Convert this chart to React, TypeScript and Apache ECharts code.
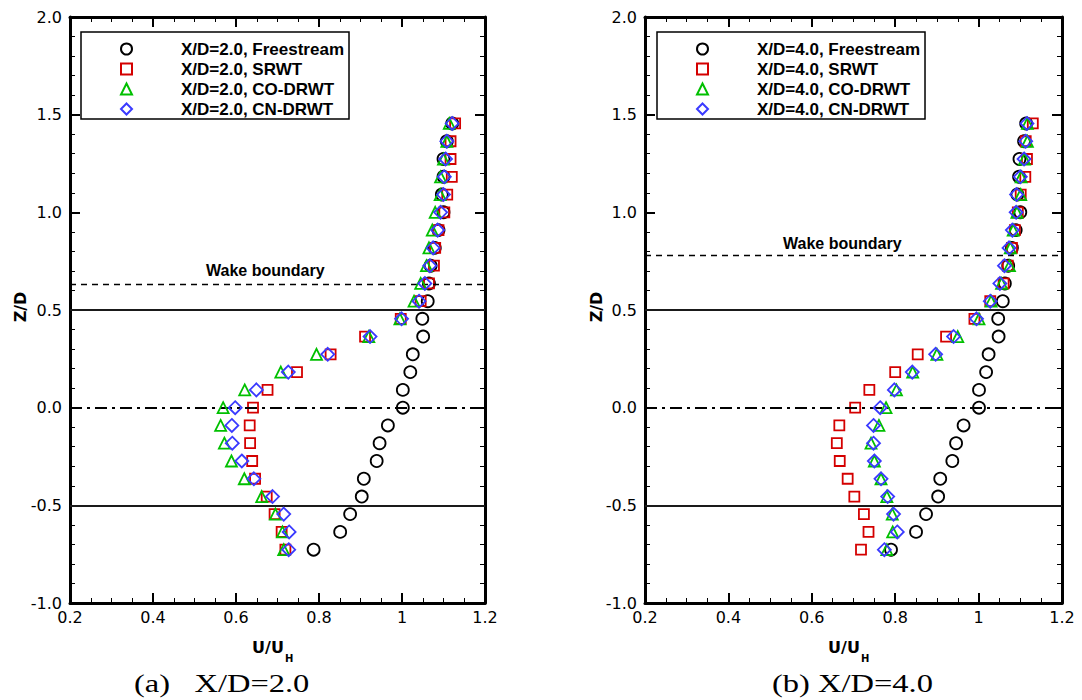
import React, { useEffect, useRef } from "react";
import * as echarts from "echarts";

// Vertical measurement stations Z/D (shared by all profiles)
const zLevels = [
  -0.727, -0.636, -0.545, -0.455, -0.364, -0.273, -0.182, -0.091, 0.0, 0.091,
  0.182, 0.273, 0.364, 0.455, 0.545, 0.636, 0.727, 0.818, 0.909, 1.0, 1.091,
  1.182, 1.273, 1.364, 1.455,
];

// X/D = 2.0 profiles (U/U_H), bottom to top
const u2Freestream = [
  0.787, 0.851, 0.875, 0.903, 0.908, 0.939, 0.946, 0.966, 1.002, 1.002, 1.02,
  1.026, 1.051, 1.049, 1.062, 1.065, 1.069, 1.079, 1.088, 1.1, 1.096, 1.1, 1.1,
  1.108, 1.121,
];
const u2SRWT = [
  0.719, 0.71, 0.693, 0.674, 0.646, 0.639, 0.634, 0.633, 0.641, 0.676, 0.747,
  0.828, 0.911, 0.997, 1.045, 1.065, 1.077, 1.08, 1.088, 1.102, 1.109, 1.12,
  1.117, 1.117, 1.128,
];
const u2CODRWT = [
  0.715, 0.712, 0.695, 0.662, 0.62, 0.589, 0.572, 0.563, 0.569, 0.621, 0.708,
  0.794, 0.92, 0.995, 1.029, 1.045, 1.059, 1.065, 1.073, 1.08, 1.092, 1.093,
  1.1, 1.108, 1.114,
];
const u2CNDRWT = [
  0.727, 0.728, 0.715, 0.688, 0.643, 0.614, 0.591, 0.59, 0.598, 0.649, 0.726,
  0.821, 0.923, 0.999, 1.041, 1.055, 1.067, 1.075, 1.086, 1.093, 1.1, 1.102,
  1.105, 1.108, 1.121,
];

// X/D = 4.0 profiles (U/U_H), bottom to top
const u4Freestream = [
  0.79, 0.85, 0.874, 0.903, 0.908, 0.937, 0.946, 0.964, 1.001, 1.001, 1.018,
  1.024, 1.048, 1.047, 1.058, 1.063, 1.071, 1.08, 1.089, 1.1, 1.093, 1.097,
  1.098, 1.109, 1.114,
];
const u4SRWT = [
  0.718, 0.736, 0.725, 0.702, 0.686, 0.667, 0.66, 0.666, 0.704, 0.738, 0.8,
  0.854, 0.922, 0.99, 1.028, 1.06, 1.07, 1.08, 1.087, 1.094, 1.101, 1.112,
  1.116, 1.113, 1.13,
];
const u4CODRWT = [
  0.78, 0.794, 0.793, 0.78, 0.766, 0.75, 0.742, 0.761, 0.778, 0.803, 0.842,
  0.9, 0.95, 1.001, 1.03, 1.055, 1.074, 1.076, 1.083, 1.092, 1.101, 1.102,
  1.11, 1.117, 1.117,
];
const u4CNDRWT = [
  0.774, 0.805, 0.796, 0.782, 0.766, 0.75, 0.748, 0.748, 0.764, 0.798, 0.841,
  0.897, 0.94, 0.995, 1.028, 1.051, 1.062, 1.073, 1.081, 1.09, 1.091, 1.1,
  1.109, 1.113, 1.116,
];

const caseNames = ["Freestream", "SRWT", "CO-DRWT", "CN-DRWT"];
const stations = ["X/D=2.0", "X/D=4.0"];
const wakeBoundary = [0.632, 0.776];
const rotorEdges = [0.5, -0.5];
const hubCenter = [0];

const xTicks = { min: 0.2, max: 1.2, interval: 0.2 };
const yTicks = { min: -1.0, max: 2.0, interval: 0.5 };

const markerColors = ["#000000", "#d40000", "#00c000", "#3a3aff"];
const markerSymbols = ["circle", "rect", "triangle", "diamond"];
const markerSizes = [12, 10, 11, 13];

const grids = [
  { left: 70, top: 17, width: 415, height: 586 },
  { left: 645, top: 17, width: 417, height: 586 },
];

const TICK_FONT = "DejaVu Sans";

function makeXAxis(gridIndex: number, position: "top" | "bottom") {
  return {
    type: "value",
    gridIndex,
    position,
    min: xTicks.min,
    max: xTicks.max,
    interval: xTicks.interval,
    axisLine: { show: true, onZero: false, lineStyle: { color: "#000", width: 3 } },
    axisTick: { show: true, inside: true, length: 10, lineStyle: { color: "#000", width: 2 } },
    minorTick: { show: true, splitNumber: 4, length: 5, lineStyle: { color: "#000", width: 1 } },
    splitLine: { show: false },
    minorSplitLine: { show: false },
    axisLabel: {
      show: position === "bottom",
      margin: 6,
      fontFamily: TICK_FONT,
      fontSize: 16,
      color: "#000",
      formatter: (v: number) => String(Math.round(v * 10) / 10),
    },
  };
}

function makeYAxis(gridIndex: number, position: "left" | "right") {
  return {
    type: "value",
    gridIndex,
    position,
    min: yTicks.min,
    max: yTicks.max,
    interval: yTicks.interval,
    axisLine: { show: true, onZero: false, lineStyle: { color: "#000", width: 3 } },
    axisTick: { show: true, inside: true, length: 10, lineStyle: { color: "#000", width: 2 } },
    minorTick: { show: true, splitNumber: 5, length: 5, lineStyle: { color: "#000", width: 1 } },
    splitLine: { show: false },
    minorSplitLine: { show: false },
    axisLabel: {
      show: position === "left",
      margin: 8,
      fontFamily: TICK_FONT,
      fontSize: 16,
      color: "#000",
      formatter: (v: number) => v.toFixed(1),
    },
  };
}

export default function App() {
  const ref = useRef<HTMLDivElement>(null);

  useEffect(() => {
    if (!ref.current) return;
    const chart = echarts.init(ref.current, null, { renderer: "svg" });

    const profiles = [
      [u2Freestream, u2SRWT, u2CODRWT, u2CNDRWT],
      [u4Freestream, u4SRWT, u4CODRWT, u4CNDRWT],
    ];

    const series: any[] = [];
    const legendNames: string[][] = [[], []];

    profiles.forEach((group, gi) => {
      group.forEach((vals, ci) => {
        const name = `${stations[gi]}, ${caseNames[ci]}`;
        legendNames[gi].push(name);
        const s: any = {
          type: "scatter",
          name,
          xAxisIndex: gi * 2,
          yAxisIndex: gi * 2,
          symbol: markerSymbols[ci],
          symbolSize: markerSizes[ci],
          symbolKeepAspect: true,
          itemStyle: {
            color: "rgba(0,0,0,0)",
            borderColor: markerColors[ci],
            borderWidth: 1.8,
            opacity: 1,
          },
          emphasis: { disabled: true },
          data: zLevels.map((z, i) => [vals[i], z]),
          z: 3 + ci,
        };
        if (ci === 0) {
          s.markLine = {
            silent: true,
            symbol: ["none", "none"],
            label: { show: false },
            animation: false,
            data: [
              ...rotorEdges.map((v) => ({
                yAxis: v,
                lineStyle: { color: "#1a1a1a", width: 2, type: "solid" },
              })),
              ...hubCenter.map((v) => ({
                yAxis: v,
                lineStyle: { color: "#000", width: 2, type: [12, 5, 3, 5] },
              })),
              {
                yAxis: wakeBoundary[gi],
                lineStyle: { color: "#000", width: 1.3, type: [6, 5] },
              },
            ],
          };
        }
        series.push(s);
      });
    });

    const legendBase = {
      orient: "vertical",
      itemWidth: 11,
      itemHeight: 11,
      itemGap: 0,
      padding: [7, 5, 0, 39],
      borderColor: "#000",
      borderWidth: 1.5,
      backgroundColor: "#fff",
      selectedMode: false,
      symbolKeepAspect: true,
      textStyle: {
        fontFamily: "Liberation Sans",
        fontWeight: "bold",
        fontSize: 17,
        color: "#000",
        lineHeight: 20,
        padding: [0, 0, 0, 44],
      },
    };

    const bold16 = "bold 16px 'Liberation Sans'";
    const axisTitleFont = "bold 16px 'DejaVu Sans'";

    chart.setOption({
      animation: false,
      backgroundColor: "#fff",
      grid: grids,
      xAxis: [makeXAxis(0, "bottom"), makeXAxis(0, "top"), makeXAxis(1, "bottom"), makeXAxis(1, "top")],
      yAxis: [makeYAxis(0, "left"), makeYAxis(0, "right"), makeYAxis(1, "left"), makeYAxis(1, "right")],
      legend: [
        { ...legendBase, data: legendNames[0], left: 81, top: 32 },
        { ...legendBase, data: legendNames[1], left: 657, top: 32 },
      ],
      series,
      graphic: [
        // wake boundary annotations
        { type: "text", x: 206, y: 270, style: { text: "Wake boundary", font: bold16, fill: "#000", textAlign: "left", textVerticalAlign: "middle" } },
        { type: "text", x: 783, y: 243, style: { text: "Wake boundary", font: bold16, fill: "#000", textAlign: "left", textVerticalAlign: "middle" } },
        // y-axis titles
        { type: "text", x: 20, y: 307, rotation: Math.PI / 2, style: { text: "Z/D", font: axisTitleFont, fill: "#000", textAlign: "center", textVerticalAlign: "middle" } },
        { type: "text", x: 596, y: 307, rotation: Math.PI / 2, style: { text: "Z/D", font: axisTitleFont, fill: "#000", textAlign: "center", textVerticalAlign: "middle" } },
        // x-axis titles U/U_H
        { type: "text", x: 268, y: 647, style: { text: "U/U", font: axisTitleFont, fill: "#000", textAlign: "center", textVerticalAlign: "middle" } },
        { type: "text", x: 285, y: 658, style: { text: "H", font: "bold 10px 'DejaVu Sans'", fill: "#000", textAlign: "left", textVerticalAlign: "middle" } },
        { type: "text", x: 844, y: 647, style: { text: "U/U", font: axisTitleFont, fill: "#000", textAlign: "center", textVerticalAlign: "middle" } },
        { type: "text", x: 861, y: 658, style: { text: "H", font: "bold 10px 'DejaVu Sans'", fill: "#000", textAlign: "left", textVerticalAlign: "middle" } },
        // captions
        { type: "text", x: 134, y: 683, scaleX: 1.3, style: { text: "(a)   X/D=2.0", font: "25px 'Liberation Serif'", fill: "#000", textAlign: "left", textVerticalAlign: "middle" } },
        { type: "text", x: 772, y: 683, scaleX: 1.3, style: { text: "(b) X/D=4.0", font: "25px 'Liberation Serif'", fill: "#000", textAlign: "left", textVerticalAlign: "middle" } },
      ],
    });

    return () => chart.dispose();
  }, []);

  return (
    <div
      ref={ref}
      style={{ position: "fixed", left: 0, top: 0, width: 1082, height: 700, background: "#fff" }}
    />
  );
}
